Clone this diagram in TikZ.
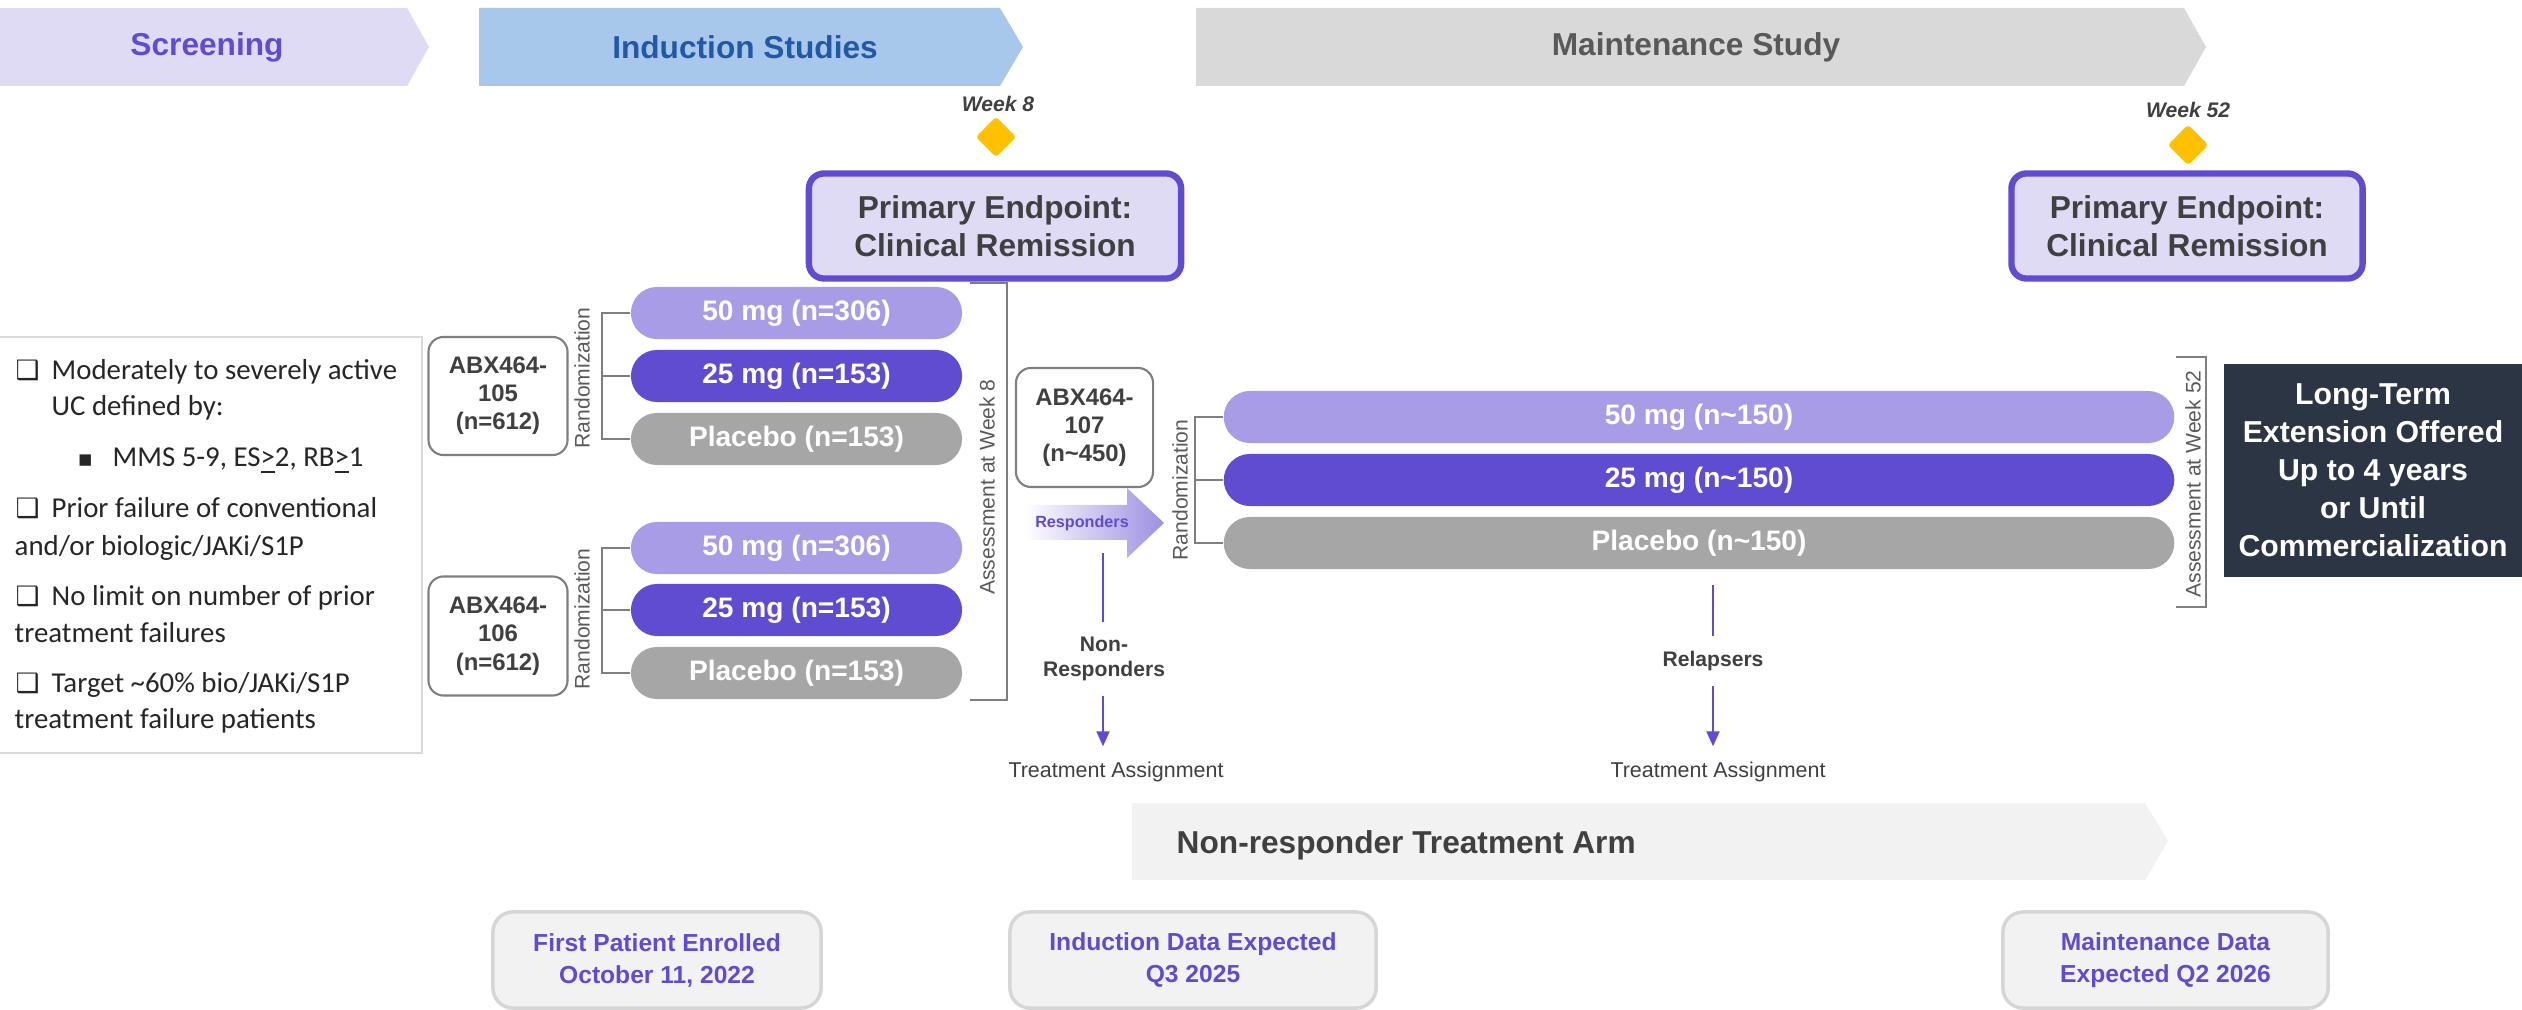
\documentclass[tikz,border=0pt]{standalone}
\usepackage{fontspec}
\setmainfont{Liberation Sans}
\newfontfamily\calfont{Carlito}
\newfontfamily\djfont{DejaVu Sans}
\usetikzlibrary{shapes.misc,shapes.geometric,arrows.meta,calc}
\definecolor{lav}{HTML}{DFDBF5}
\definecolor{purp}{HTML}{604CD0}
\definecolor{lpurp}{HTML}{A99CE6}
\definecolor{gpill}{HTML}{A6A6A6}
\definecolor{indblue}{HTML}{A7C8EB}
\definecolor{indtext}{HTML}{2358A5}
\definecolor{mgray}{HTML}{D9D9D9}
\definecolor{mtext}{HTML}{595959}
\definecolor{dtext}{HTML}{404040}
\definecolor{gold}{HTML}{FFC000}
\definecolor{slate}{HTML}{2B3544}
\definecolor{lgray}{HTML}{F2F2F2}
\definecolor{bgray}{HTML}{D6D6D6}
\definecolor{linegray}{HTML}{7F7F7F}
\definecolor{crittext}{HTML}{262626}
\definecolor{arrowend}{HTML}{9D8FE2}
\tikzset{
  chevtext/.style={font=\fontsize{9}{10.8}\selectfont\bfseries, inner sep=0},
  pebox/.style={draw=purp, line width=1.8pt, fill=lav, rounded corners=0.15cm, text=dtext,
    font=\fontsize{9}{10.8}\selectfont\bfseries, align=center, inner sep=0},
  pill/.style={rounded rectangle, minimum height=0.52cm, inner sep=0, text=white,
    font=\fontsize{8}{9.6}\selectfont\bfseries},
  abx/.style={draw=linegray, line width=0.6pt, rounded corners=0.15cm, fill=white, text=dtext,
    font=\fontsize{6.8}{8}\selectfont\bfseries, align=center, inner sep=0},
  rottext/.style={rotate=90, text=mtext, font=\fontsize{6}{7}\selectfont, inner sep=0},
  brk/.style={draw=linegray, line width=0.6pt},
  vline/.style={draw=purp, line width=0.6pt},
  varrow/.style={draw=purp, line width=0.6pt, -{Triangle[length=0.15cm,width=0.13cm]}},
  crit/.style={font=\calfont\fontsize{8.2}{10}\selectfont, text=crittext, anchor=base west, inner sep=0},
  chk/.style={font=\djfont\fontsize{7.6}{8}\selectfont, text=crittext, anchor=base west, inner sep=0},
  sqb/.style={font=\djfont\fontsize{6.5}{7}\selectfont, text=crittext, anchor=base west, inner sep=0},
  weektext/.style={font=\fontsize{6}{7}\selectfont\bfseries\itshape, text=dtext, inner sep=0},
  wk/.style={diamond, fill=gold, minimum width=0.41cm, minimum height=0.41cm, inner sep=0, rounded corners=1pt},
  small/.style={font=\fontsize{6}{7.1}\selectfont\bfseries, text=dtext, align=center, inner sep=0.14cm},
  tassign/.style={font=\fontsize{6.1}{7}\selectfont, text=dtext, inner sep=0.15cm},
  mstone/.style={draw=bgray, line width=1pt, fill=lgray, rounded corners=0.2cm, text=purp,
    font=\fontsize{7}{9.1}\selectfont\bfseries, align=center, inner sep=0}
}
\begin{document}
\begin{tikzpicture}[x=0.01cm,y=-0.01cm]
\useasboundingbox (0,0) rectangle (2522,1010);

% top chevrons
\fill[lav] (0,8) -- (407,8) -- (429,47) -- (407,86) -- (0,86) -- cycle;
\node[chevtext, text=purp] (scr) at (207,47) {Screening};
\fill[indblue] (479,8) -- (1000,8) -- (1023,47) -- (1000,86) -- (479,86) -- cycle;
\node[chevtext, text=indtext] (ind) at (745,47) {Induction Studies};
\fill[mgray] (1196,8) -- (2184,8) -- (2206,47) -- (2184,86) -- (1196,86) -- cycle;
\node[chevtext, text=mtext] (mnt) at (1696,47) {Maintenance Study};

% week markers
\node[weektext] (w8) at (998,104) {Week 8};
\node[wk] (d8) at (996,137) {};
\node[weektext] (w52) at (2188,110) {Week 52};
\node[wk] (d52) at (2188,145) {};

% primary endpoints
\node[pebox, minimum width=3.72cm, minimum height=1.05cm] (pe1) at (995,226) {Primary Endpoint:\\Clinical Remission};
\node[pebox, minimum width=3.51cm, minimum height=1.05cm] (pe2) at (2187,226) {Primary Endpoint:\\Clinical Remission};

% criteria box
\node[draw=mgray, line width=0.7pt, minimum width=4.24cm, minimum height=4.16cm, inner sep=0] (critbox) at (210,545) {};
\node[chk] (c1) at (15,380) {❑};
\node[crit] (t1a) at (51,380) {Moderately to severely active};
\node[crit] (t1b) at (51,416) {UC defined by:};
\node[sqb] (b1) at (77,467) {▪};
\node[crit] (t1c) at (112,467) {MMS 5-9, ES\underline{>}2, RB\underline{>}1};
\node[chk] (c2) at (15,518) {❑};
\node[crit] (t2a) at (51,518) {Prior failure of conventional};
\node[crit] (t2b) at (14,555) {and/or biologic/JAKi/S1P};
\node[chk] (c3) at (15,605) {❑};
\node[crit] (t3a) at (51,605) {No limit on number of prior};
\node[crit] (t3b) at (14,642) {treatment failures};
\node[chk] (c4) at (15,692) {❑};
\node[crit] (t4a) at (51,692) {Target \textasciitilde60\% bio/JAKi/S1P};
\node[crit] (t4b) at (14,728) {treatment failure patients};

% induction study boxes
\node[abx, minimum width=1.39cm, minimum height=1.18cm] (a105) at (498,396) {ABX464-\\105\\(n=612)};
\node[abx, minimum width=1.39cm, minimum height=1.19cm] (a106) at (498,636) {ABX464-\\106\\(n=612)};

\node[pill, fill=lpurp, minimum width=3.31cm] (p1a) at (796.5,313) {50 mg (n=306)};
\node[pill, fill=purp, minimum width=3.31cm] (p1b) at (796.5,376) {25 mg (n=153)};
\node[pill, fill=gpill, minimum width=3.31cm] (p1c) at (796.5,439) {Placebo (n=153)};
\node[pill, fill=lpurp, minimum width=3.31cm] (p2a) at (796.5,548) {50 mg (n=306)};
\node[pill, fill=purp, minimum width=3.31cm] (p2b) at (796.5,610) {25 mg (n=153)};
\node[pill, fill=gpill, minimum width=3.31cm] (p2c) at (796.5,673) {Placebo (n=153)};

\node[rottext] (r1) at (582,378) {Randomization};
\node[rottext] (r2) at (582,619) {Randomization};
\draw[brk] (p1a.west) -- ++(-28,0) |- (p1c.west);
\draw[brk] (p1b.west) -- ++(-28,0);
\draw[brk] (p2a.west) -- ++(-28,0) |- (p2c.west);
\draw[brk] (p2b.west) -- ++(-28,0);

% assessment at week 8
\coordinate (aw8t) at (1007,283);
\coordinate (aw8b) at (1007,700);
\draw[brk] (aw8t) ++(-37,0) -- (aw8t) -- (aw8b) -- ++(-37,0);
\node[rottext] (aw8) at (987,487) {Assessment at Week 8};

% maintenance
\node[abx, minimum width=1.37cm, minimum height=1.19cm] (a107) at (1084.5,427.5) {ABX464-\\107\\(n\textasciitilde450)};
\shade[left color=white, right color=arrowend] (1024,505) -- (1127,505) -- (1127,488) -- (1164,523) -- (1127,558) -- (1127,540) -- (1024,540) -- cycle;
\node[font=\fontsize{4.6}{5}\selectfont\bfseries, text=purp, inner sep=0] (resp) at (1082,523) {Responders};

\node[rottext] (r3) at (1180,490) {Randomization};
\node[pill, fill=lpurp, minimum width=9.50cm] (m1) at (1699,417) {50 mg (n\textasciitilde150)};
\node[pill, fill=purp, minimum width=9.50cm] (m2) at (1699,480) {25 mg (n\textasciitilde150)};
\node[pill, fill=gpill, minimum width=9.50cm] (m3) at (1699,543) {Placebo (n\textasciitilde150)};
\draw[brk] (m1.west) -- ++(-28,0) |- (m3.west);
\draw[brk] (m2.west) -- ++(-28,0);

% assessment at week 52
\coordinate (aw52t) at (2206,357);
\coordinate (aw52b) at (2206,607);
\draw[brk] (aw52t) ++(-30,0) -- (aw52t) -- (aw52b) -- ++(-30,0);
\node[rottext] (aw52) at (2193,484) {Assessment at Week 52};

% long-term extension
\node[fill=slate, text=white, minimum width=2.98cm, minimum height=2.13cm, inner sep=0, align=center,
  font=\fontsize{8.6}{10.8}\selectfont\bfseries] (lte) at (2373,470.5)
  {Long-Term\\Extension Offered\\Up to 4 years\\or Until\\Commercialization};

% non-responders
\coordinate (nrtop) at (1103,553);
\node[small] (nr) at (1104,659) {Non-\\Responders};
\node[tassign] (ta1) at (1116,772) {Treatment Assignment};
\draw[vline] (nrtop) -- (nrtop |- nr.north);
\draw[varrow] (nrtop |- nr.south) -- (nrtop |- ta1.north);

% relapsers
\coordinate (reltop) at (1713,585);
\node[small] (rel) at (1713,661) {Relapsers};
\node[tassign] (ta2) at (1718,772) {Treatment Assignment};
\draw[vline] (reltop) -- (reltop |- rel.north);
\draw[varrow] (reltop |- rel.south) -- (reltop |- ta2.north);

% non-responder treatment arm
\fill[lgray] (1132,803) -- (2145,803) -- (2168,841) -- (2145,880) -- (1132,880) -- cycle;
\node[chevtext, text=dtext, anchor=west] (nrarm) at (1176,845) {Non-responder Treatment Arm};

% milestones
\node[mstone, minimum width=3.28cm, minimum height=0.96cm] (ms1) at (657,960) {First Patient Enrolled\\October 11, 2022};
\node[mstone, minimum width=3.66cm, minimum height=0.96cm] (ms2) at (1193,960) {Induction Data Expected\\Q3 2025};
\node[mstone, minimum width=3.25cm, minimum height=0.96cm] (ms3) at (2165.5,960) {Maintenance Data\\Expected Q2 2026};
\end{tikzpicture}
\end{document}
